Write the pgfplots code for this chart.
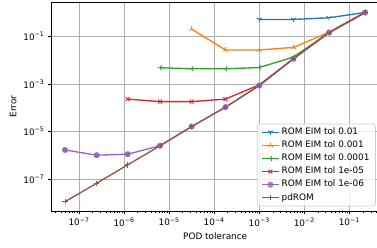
\documentclass[border=0pt]{standalone}
\usepackage{fontspec}
\setmainfont{DejaVu Sans}
\usepackage{pgfplots}
\pgfplotsset{compat=1.18}
\usetikzlibrary{plotmarks}
\definecolor{c0}{HTML}{1F77B4}
\definecolor{c1}{HTML}{FF7F0E}
\definecolor{c2}{HTML}{2CA02C}
\definecolor{c3}{HTML}{D62728}
\definecolor{c4}{HTML}{9467BD}
\definecolor{c5}{HTML}{8C564B}
\definecolor{gridc}{HTML}{B0B0B0}
\definecolor{legc}{HTML}{CCCCCC}
\newcommand{\tf}{\fontsize{8.9}{10.6}\selectfont}
\newcommand{\e}[1]{10\textsuperscript{−#1}}
\begin{document}
\begin{tikzpicture}
\useasboundingbox (0,0) rectangle (377pt,248pt);
\begin{axis}[
  at={(51pt,37pt)}, anchor=south west,
  scale only axis, width=328.4pt, height=209pt,
  xmode=log, ymode=log,
  xmin=2.388e-8, xmax=0.4656,
  ymin=4.467e-9, ymax=2.818,
  axis line style={line width=0.71pt},
  tick align=outside, xtick pos=bottom, ytick pos=left,
  major tick length=3.1pt, minor tick length=1.8pt,
  every tick/.style={black, line width=0.71pt},
  minor tick style={line width=0.53pt},
  grid=major, major grid style={gridc, line width=0.71pt},
  xtick={1e-7,1e-6,1e-5,1e-4,1e-3,1e-2,1e-1},
  xticklabels={\e{7},\e{6},\e{5},\e{4},\e{3},\e{2},\e{1}},
  minor xtick={3e-8,4e-8,5e-8,6e-8,7e-8,8e-8,9e-8,
    2e-7,3e-7,4e-7,5e-7,6e-7,7e-7,8e-7,9e-7,
    2e-6,3e-6,4e-6,5e-6,6e-6,7e-6,8e-6,9e-6,
    2e-5,3e-5,4e-5,5e-5,6e-5,7e-5,8e-5,9e-5,
    2e-4,3e-4,4e-4,5e-4,6e-4,7e-4,8e-4,9e-4,
    2e-3,3e-3,4e-3,5e-3,6e-3,7e-3,8e-3,9e-3,
    2e-2,3e-2,4e-2,5e-2,6e-2,7e-2,8e-2,9e-2,
    2e-1,3e-1,4e-1},
  ytick={1e-7,1e-5,1e-3,1e-1},
  yticklabels={\e{7},\e{5},\e{3},\e{1}},
  yminorticks=false,
  tick label style={font=\tf},
  xlabel={POD tolerance}, ylabel={Error},
  label style={font=\tf},
  legend cell align=left,
  legend style={at={(1,0)}, anchor=south east, xshift=-3.6pt, yshift=4.6pt,
    draw=legc, line width=0.71pt, rounded corners=2.5pt, fill=white, fill opacity=0.8, text opacity=1,
    font=\tf, inner xsep=4pt, inner ysep=2pt, row sep=0.5pt,
    nodes={text height=6.6pt, text depth=2pt}},
  every axis plot/.append style={line width=1.33pt},
]
\addplot[c0, mark=Mercedes star, mark size=2.8pt, mark options={rotate=180, line width=0.89pt}] coordinates {
 (1e-3,0.52) (5.75e-3,0.52) (3.55e-2,0.61) (0.224,1.02)};
\addlegendentry{ROM EIM tol 0.01}
\addplot[c1, mark=Mercedes star, mark size=2.8pt, mark options={line width=0.89pt}] coordinates {
 (3.16e-5,0.204) (1.78e-4,2.7e-2) (1e-3,2.7e-2) (5.75e-3,3.45e-2) (3.55e-2,0.15) (0.224,1.02)};
\addlegendentry{ROM EIM tol 0.001}
\addplot[c2, mark=Mercedes star, mark size=2.8pt, mark options={rotate=90, line width=0.89pt}] coordinates {
 (6.31e-6,4.8e-3) (3.16e-5,4.35e-3) (1.78e-4,4.35e-3) (1e-3,4.9e-3) (5.75e-3,1.35e-2) (3.55e-2,0.145) (0.224,1.02)};
\addlegendentry{ROM EIM tol 0.0001}
\addplot[c3, mark=x, mark size=2.7pt, mark options={line width=0.89pt}] coordinates {
 (1.2e-6,2.3e-4) (6.31e-6,1.8e-4) (3.16e-5,1.8e-4) (1.78e-4,2.3e-4) (1e-3,9.1e-4) (5.75e-3,1.15e-2) (3.55e-2,0.145) (0.224,1.02)};
\addlegendentry{ROM EIM tol 1e-05}
\addplot[c4, mark=*, mark size=2.8pt, mark options={draw=c4, fill=c4, line width=0.3pt}] coordinates {
 (4.89e-8,1.66e-6) (2.47e-7,1.0e-6) (1.2e-6,1.1e-6) (6.31e-6,2.5e-6) (3.16e-5,1.6e-5) (1.78e-4,1.05e-4) (1e-3,8.5e-4) (5.75e-3,1.15e-2) (3.55e-2,0.145) (0.224,1.02)};
\addlegendentry{ROM EIM tol 1e-06}
\addplot[c5, mark=+, mark size=2.7pt, mark options={line width=0.89pt}] coordinates {
 (4.89e-8,1.1e-8) (2.47e-7,6.6e-8) (1.2e-6,3.9e-7) (6.31e-6,2.5e-6) (3.16e-5,1.6e-5) (1.78e-4,1.05e-4) (1e-3,8.5e-4) (5.75e-3,1.15e-2) (3.55e-2,0.145) (0.224,1.02)};
\addlegendentry{pdROM}
\end{axis}
\end{tikzpicture}
\end{document}
